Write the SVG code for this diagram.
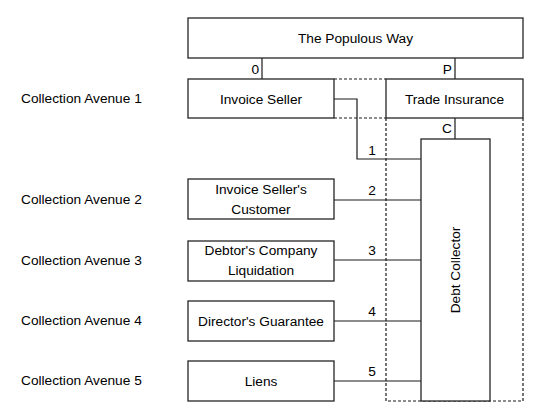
<svg xmlns="http://www.w3.org/2000/svg" width="544" height="419" viewBox="0 0 544 419">
<style>
.box{fill:#fff;stroke:#262626;stroke-width:1.3}
.ln{fill:none;stroke:#1a1a1a;stroke-width:1.2}
.dash{fill:none;stroke:#1a1a1a;stroke-width:1.2;stroke-dasharray:3 2}
text{font-family:"Liberation Sans",Arial,sans-serif;font-size:13.7px;fill:#000}
.c{text-anchor:middle}
.e{text-anchor:end}
</style>
<rect width="544" height="419" fill="#fff"/>
<g id="region">
<path class="dash" d="M334,79H386M334,118H386M386,118V401H523M523,118V401"/>
</g>
<g id="connectors">
<path class="ln" d="M262,58V79"/>
<path class="ln" d="M455,58V79"/>
<path class="ln" d="M455,118V139"/>
<path class="ln" d="M334,99H357V159H421"/>
<path class="ln" d="M334,200H421"/>
<path class="ln" d="M334,260H421"/>
<path class="ln" d="M334,321H421"/>
<path class="ln" d="M334,381H421"/>
<text class="e" x="259" y="74">0</text>
<text class="e" x="452" y="74">P</text>
<text class="e" x="452" y="133">C</text>
<text class="c" x="372" y="155">1</text>
<text class="c" x="372" y="195">2</text>
<text class="c" x="372" y="255">3</text>
<text class="c" x="372" y="316">4</text>
<text class="c" x="372" y="376">5</text>
</g>
<g id="populous"><rect class="box" x="188" y="18" width="335" height="40"/><text class="c" x="355.5" y="43">The Populous Way</text></g>
<g id="invoice-seller"><rect class="box" x="188" y="79" width="146" height="39"/><text class="c" x="261" y="103.5">Invoice Seller</text></g>
<g id="trade-insurance"><rect class="box" x="386" y="79" width="137" height="39"/><text class="c" x="454.5" y="103.5">Trade Insurance</text></g>
<g id="customer"><rect class="box" x="188" y="179" width="146" height="40"/><text class="c" x="261" y="194">Invoice Seller's</text><text class="c" x="261" y="214">Customer</text></g>
<g id="liquidation"><rect class="box" x="188" y="241" width="146" height="40"/><text class="c" x="261" y="255">Debtor's Company</text><text class="c" x="261" y="275">Liquidation</text></g>
<g id="guarantee"><rect class="box" x="188" y="301" width="146" height="40"/><text class="c" x="261" y="325.5">Director's Guarantee</text></g>
<g id="liens"><rect class="box" x="188" y="361" width="146" height="40"/><text class="c" x="261" y="385.5">Liens</text></g>
<g id="debt-collector"><rect class="box" x="421" y="139" width="69" height="262"/><text class="c" transform="translate(460,270) rotate(-90)">Debt Collector</text></g>
<g id="avenues">
<text x="21" y="103">Collection Avenue 1</text>
<text x="21" y="203.5">Collection Avenue 2</text>
<text x="21" y="264.5">Collection Avenue 3</text>
<text x="21" y="324.5">Collection Avenue 4</text>
<text x="21" y="385">Collection Avenue 5</text>
</g>
</svg>
